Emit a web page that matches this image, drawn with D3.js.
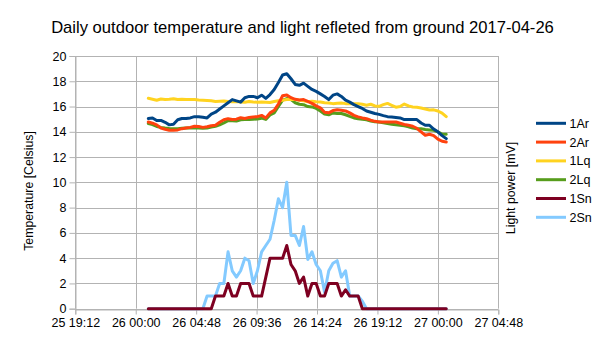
<!DOCTYPE html>
<html>
<head>
<meta charset="utf-8">
<script src="https://cdn.jsdelivr.net/npm/d3@7/dist/d3.min.js"></script>
<style>
  html, body { margin: 0; padding: 0; background: #ffffff; }
  svg { display: block; font-family: "Liberation Sans", Arial, sans-serif; }
</style>
</head>
<body>
<svg id="chart" width="605" height="340"></svg>
<script>
// ---------- data ----------
const title = "Daily outdoor temperature and light refleted from ground 2017-04-26";
const yLeftLabel = "Temperature [Celsius]";
const yRightLabel = "Light power [mV]";
const seriesNames = ["1Ar", "2Ar", "1Lq", "2Lq", "1Sn", "2Sn"];
const seriesColors = ["#004586", "#ff420e", "#ffd320", "#579d1c", "#7e0021", "#83caff"];
const xTickLabels = ["25 19:12", "26 00:00", "26 04:48", "26 09:36", "26 14:24", "26 19:12", "27 00:00", "27 04:48"];
const yTicks = [0, 2, 4, 6, 8, 10, 12, 14, 16, 18, 20];
const firstSample = "2017-04-26T01:00:00";
const sampleMinutes = 20;
const axisStart = "2017-04-25T19:12:00";
const axisEnd = "2017-04-27T04:48:00";

const s1Ar = [15.05,15.1,14.9,14.9,14.75,14.55,14.6,14.95,15.05,15.05,15.1,15.2,15.2,15.15,15.1,15.4,15.55,15.8,16.05,16.3,16.55,16.45,16.35,16.7,16.8,16.8,16.7,16.9,16.65,16.95,17.35,17.9,18.5,18.6,18.2,17.75,17.68,17.85,17.6,17.35,17.2,17.0,16.8,16.55,16.9,17.0,16.8,16.5,16.35,16.15,16.0,15.85,15.65,15.55,15.45,15.38,15.28,15.2,15.18,15.14,15.1,14.97,14.97,14.97,14.97,14.7,14.52,14.52,14.22,14.0,13.7,13.46];
const s2Ar = [14.78,14.68,14.55,14.3,14.2,14.13,14.12,14.15,14.25,14.3,14.35,14.44,14.42,14.35,14.4,14.48,14.52,14.75,14.95,15.04,14.98,15.0,15.12,15.06,15.14,15.18,15.2,15.3,15.1,15.5,15.7,16.2,16.85,16.92,16.7,16.57,16.52,16.55,16.4,16.25,16.05,15.9,15.55,15.5,15.68,15.75,15.7,15.65,15.5,15.3,15.18,15.1,15.03,14.92,14.83,14.78,14.78,14.78,14.78,14.78,14.68,14.58,14.52,14.44,14.28,14.0,13.73,13.81,13.7,13.42,13.25,13.2];
const s1Lq = [16.65,16.58,16.5,16.6,16.55,16.58,16.62,16.55,16.58,16.55,16.55,16.55,16.52,16.5,16.48,16.45,16.4,16.42,16.44,16.4,16.38,16.4,16.36,16.34,16.4,16.36,16.34,16.36,16.34,16.32,16.4,16.46,16.5,16.55,16.55,16.55,16.5,16.45,16.38,16.42,16.38,16.36,16.3,16.28,16.23,16.26,16.28,16.23,16.23,16.22,16.23,16.18,16.1,16.18,16.05,16.02,16.15,16.25,16.1,15.95,16.0,16.2,16.05,15.97,15.94,15.88,15.8,15.72,15.74,15.65,15.48,15.2];
const s2Lq = [14.65,14.57,14.42,14.35,14.3,14.27,14.25,14.25,14.28,14.3,14.3,14.3,14.3,14.28,14.3,14.38,14.44,14.55,14.7,14.88,14.88,14.85,14.95,14.97,14.98,15.0,15.02,15.08,14.98,15.33,15.5,16.0,16.5,16.63,16.55,16.3,16.18,16.15,16.0,15.97,15.85,15.65,15.4,15.35,15.49,15.45,15.45,15.35,15.22,15.1,15.04,14.99,14.95,14.86,14.8,14.77,14.72,14.66,14.6,14.56,14.52,14.47,14.4,14.3,14.25,14.24,14.18,14.15,14.12,14.0,13.82,13.81];
const s1Sn = [0,0,0,0,0,0,0,0,0,0,0,0,0,0,0,0,1,1,1,2,1,1,2,2,2,1,1,1,2.5,4,4,4,4,5,3.5,3,2,2.5,1,2,2,1,1,2,2,2,1,1.5,1,1,1,0,0,0,0,0,0,0,0,0,0,0,0,0,0,0,0,0,0,0,0,0];
const s2Sn = [0,0,0,0,0,0,0,0,0,0,0,0,0,0,1,1,1,2,2,4.5,3,2.5,3,4,3.8,2,3,4.5,5,5.5,7,8.7,8,10,5.8,5.8,5,6.5,3.9,4.5,3.5,3,1.3,3,3.6,3.8,2.5,3,1,1,1,0.6,0,0,0,0,0,0,0,0,0,0,0,0,0,0,0,0,0,0,0,0];

const allSeries = [s1Ar, s2Ar, s1Lq, s2Lq, s1Sn, s2Sn];

// ---------- layout ----------
const svg = d3.select("#chart");
const W = 605, H = 340;
const plot = { left: 75.3, right: 498.3, top: 56, bottom: 308.7 };
const gridColor = "#b3b3b3";

const x = d3.scaleTime()
  .domain([new Date(axisStart), new Date(axisEnd)])
  .range([plot.left, plot.right]);
const y = d3.scaleLinear().domain([0, 20]).range([plot.bottom, plot.top]);

const t0 = new Date(firstSample);
const times = s1Ar.map((_, i) => d3.timeMinute.offset(t0, i * sampleMinutes));
const tickDates = xTickLabels.map((_, i) => d3.timeMinute.offset(new Date(axisStart), i * 288));

// title
svg.append("text")
  .attr("x", W / 2 + 0) .attr("y", 33)
  .attr("text-anchor", "middle")
  .attr("font-size", 16.6)
  .attr("fill", "#000")
  .text(title);

// grid
const g = svg.append("g");
g.selectAll("line.hg").data(yTicks).enter().append("line")
  .attr("x1", plot.left).attr("x2", plot.right)
  .attr("y1", d => Math.round(y(d)) + 0.5).attr("y2", d => Math.round(y(d)) + 0.5)
  .attr("stroke", gridColor).attr("stroke-width", 1);
g.selectAll("line.vg").data(tickDates).enter().append("line")
  .attr("x1", d => Math.round(x(d)) + 0.5).attr("x2", d => Math.round(x(d)) + 0.5)
  .attr("y1", plot.top).attr("y2", plot.bottom)
  .attr("stroke", gridColor).attr("stroke-width", 1);

// y axis
const yAxis = d3.axisLeft(y).tickValues(yTicks).tickSize(6).tickPadding(3).tickFormat(d3.format("d"));
const ya = svg.append("g").attr("transform", `translate(${Math.round(plot.left) + 0.5},0)`).call(yAxis);
ya.select(".domain").attr("stroke", gridColor);
ya.selectAll(".tick line").attr("stroke", gridColor);
ya.selectAll(".tick text").attr("font-size", 12.5).attr("fill", "#000").attr("font-family", "Liberation Sans, Arial, sans-serif");

// x axis
const xAxis = d3.axisBottom(x).tickValues(tickDates).tickSize(5).tickPadding(4)
  .tickFormat((d, i) => xTickLabels[i]);
const xa = svg.append("g").attr("transform", `translate(0,${Math.round(plot.bottom) + 0.5})`).call(xAxis);
xa.select(".domain").attr("stroke", gridColor);
xa.selectAll(".tick line").attr("stroke", gridColor);
xa.selectAll(".tick text").attr("font-size", 12.5).attr("fill", "#000").attr("font-family", "Liberation Sans, Arial, sans-serif");

// axis titles
svg.append("text")
  .attr("transform", "translate(32.5,191) rotate(-90)")
  .attr("text-anchor", "middle").attr("font-size", 12.3).attr("fill", "#000")
  .text(yLeftLabel);
svg.append("text")
  .attr("transform", "translate(514.5,188) rotate(-90)")
  .attr("text-anchor", "middle").attr("font-size", 12.3).attr("fill", "#000")
  .text(yRightLabel);

// lines (drawn in reverse order so earlier series lie on top)
const line = d3.line().x((d, i) => x(times[i])).y(d => y(d)).curve(d3.curveLinear);
const drawOrder = [5, 4, 3, 2, 1, 0];
drawOrder.forEach(k => {
  svg.append("path")
    .datum(allSeries[k])
    .attr("fill", "none")
    .attr("stroke", seriesColors[k])
    .attr("stroke-width", 3)
    .attr("stroke-linejoin", "round")
    .attr("stroke-linecap", "round")
    .attr("d", line);
});

// legend
const legend = svg.append("g");
const legY0 = 123.3, legDy = 18.8;
seriesNames.forEach((name, i) => {
  const yy = legY0 + i * legDy;
  legend.append("line")
    .attr("x1", 536).attr("x2", 566).attr("y1", yy).attr("y2", yy)
    .attr("stroke", seriesColors[i]).attr("stroke-width", 3);
  legend.append("text")
    .attr("x", 569.5).attr("y", yy + 4.5)
    .attr("font-size", 12.5).attr("fill", "#000")
    .text(name);
});
</script>
</body>
</html>
